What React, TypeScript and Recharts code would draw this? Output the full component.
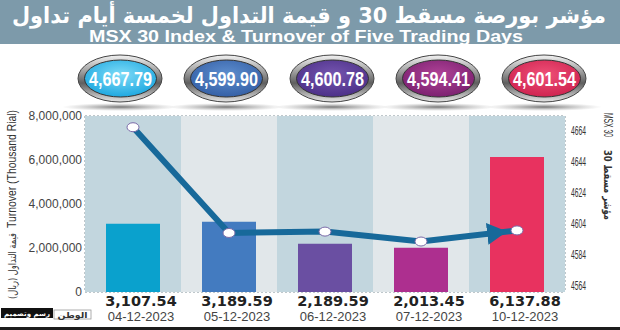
import React from 'react';
import { ComposedChart, Bar, Line, XAxis, YAxis, CartesianGrid, ReferenceArea, Cell } from 'recharts';

const dates = ['04-12-2023', '05-12-2023', '06-12-2023', '07-12-2023', '10-12-2023'];
const turnover = [3107540, 3189590, 2189590, 2013450, 6137880];
const turnoverLabels = ['3,107.54', '3,189.59', '2,189.59', '2,013.45', '6,137.88'];
const msxIndex = [4667.79, 4599.9, 4600.78, 4594.41, 4601.54];
const indexLabels = ['4,667.79', '4,599.90', '4,600.78', '4,594.41', '4,601.54'];
const leftTicks = [0, 2000000, 4000000, 6000000, 8000000];
const rightTicks = [4564, 4584, 4604, 4624, 4644, 4664];

const titleAr = 'مؤشر بورصة مسقط 30 و قيمة التداول لخمسة أيام تداول';
const titleEn = 'MSX 30 Index & Turnover of Five Trading Days';
const leftTitleEn = 'Turnover (Thousand Rial)';
const leftTitleAr = 'قيمة التداول (ريال)';
const rightTitleEn = 'MSX 30';
const rightTitleAr = 'مؤشر مسقط 30';
const creditAr = 'رسم وتصميم';
const logoAr = 'الوطن';

const barColors = ['#0aa1cd', '#437bc0', '#6a4fa2', '#ad2f8f', '#e8325f'];
const ellipseColors = [
  ['#7fdcf8', '#1fa8e0'],
  ['#5f8fcf', '#3560a6'],
  ['#7656b0', '#4c3088'],
  ['#b04398', '#7c2170'],
  ['#ef5078', '#cf2450'],
];
const bandColors = ['#c2d6de', '#e1e7ea'];

const data = dates.map((d, i) => ({ date: d, turnover: turnover[i], index: msxIndex[i] }));

const fmt = (v: number) => v.toLocaleString('en-US');

const XTick = (props: any) => {
  const { x, y, payload } = props;
  const i = dates.indexOf(payload.value);
  return (
    <g transform={`translate(${x + 8},${y})`}>
      <text x={0} y={6} textAnchor="middle" fontFamily="'DejaVu Sans', sans-serif" fontWeight="bold" fontSize={14.5} fill="#222">
        {turnoverLabels[i]}
      </text>
      <text x={0} y={21} textAnchor="middle" fontFamily="'Liberation Sans', Arial, sans-serif" fontSize={13} fill="#444">
        {payload.value}
      </text>
    </g>
  );
};

const LeftTick = (props: any) => {
  const { x, y, payload } = props;
  return (
    <text x={x + 5} y={y} dy="0.35em" textAnchor="end" fontFamily="'Liberation Sans', Arial, sans-serif" fontSize={12} fill="#444">
      {fmt(payload.value)}
    </text>
  );
};

const RightTick = (props: any) => {
  const { x, y, payload } = props;
  return (
    <text x={x - 2} y={y - 3} dy="0.35em" textAnchor="start" fontFamily="'Liberation Sans Narrow', 'Liberation Sans', Arial, sans-serif" fontSize={13} fill="#333" textLength={15} lengthAdjust="spacingAndGlyphs">
      {payload.value}
    </text>
  );
};

const Dot = (props: any) => {
  const { cx, cy } = props;
  if (cx == null || cy == null) return null;
  return <ellipse cx={cx} cy={cy} rx={6} ry={4.5} fill="#fff" stroke="#7a6aa8" strokeWidth={1} />;
};

const Header = () => (
  <svg width={620} height={330} style={{ position: 'absolute', left: 0, top: 0 }}>
    <defs>
      <marker id="arrowHead" viewBox="0 0 20 22" refX={30} refY={11} markerWidth={20} markerHeight={22} markerUnits="userSpaceOnUse" orient="auto">
        <path d="M0,0 L20,11 L0,22 z" fill="#17699a" />
      </marker>
      <linearGradient id="chrome" x1="0" y1="0" x2="0" y2="1">
        <stop offset="0" stopColor="#f2f2f2" />
        <stop offset="0.35" stopColor="#a0a0a0" />
        <stop offset="0.6" stopColor="#5f5f5f" />
        <stop offset="1" stopColor="#e6e6e6" />
      </linearGradient>
      <radialGradient id="shadow" cx="0.5" cy="0.5" r="0.5">
        <stop offset="0" stopColor="#555" stopOpacity={0.8} />
        <stop offset="1" stopColor="#999" stopOpacity={0} />
      </radialGradient>
      {ellipseColors.map((c, i) => (
        <radialGradient key={i} id={`eg${i}`} cx="0.5" cy="0.4" r="0.6">
          <stop offset="0" stopColor={c[0]} />
          <stop offset="1" stopColor={c[1]} />
        </radialGradient>
      ))}
    </defs>
    <rect x={0} y={0} width={620} height={44} fill="#7d9aaa" />
    <text x={309} y={23} textAnchor="middle" fontFamily="'DejaVu Sans', sans-serif" fontWeight="bold" fontSize={22} fill="#fff" textLength={594} lengthAdjust="spacingAndGlyphs" direction="rtl">
      {titleAr}
    </text>
    <text x={306} y={42} textAnchor="middle" fontFamily="'Liberation Sans', Arial, sans-serif" fontWeight="bold" fontSize={17} fill="#fff" textLength={434} lengthAdjust="spacingAndGlyphs">
      {titleEn}
    </text>
    {indexLabels.map((lab, i) => {
      const cx = 120 + i * 106;
      return (
        <g key={i}>
          <ellipse cx={cx} cy={107} rx={58} ry={4} fill="url(#shadow)" />
          <ellipse cx={cx} cy={78.5} rx={42} ry={23.5} fill="url(#chrome)" stroke="#444" strokeWidth={1} />
          <ellipse cx={cx + 0.5} cy={78.5} rx={36} ry={18.5} fill={`url(#eg${i})`} stroke="#333" strokeWidth={1} />
          <text x={cx + 0.5} y={86} textAnchor="middle" fontFamily="'Liberation Sans Narrow', 'Liberation Sans', Arial, sans-serif" fontWeight="bold" fontSize={20} fill="#fff" textLength={63} lengthAdjust="spacingAndGlyphs">
            {lab}
          </text>
        </g>
      );
    })}
    <text transform="translate(16,169) rotate(-90)" textAnchor="middle" fontFamily="'Liberation Sans Narrow', 'Liberation Sans', Arial, sans-serif" fontSize={12} fill="#333" textLength={118} lengthAdjust="spacingAndGlyphs">
      {leftTitleEn}
    </text>
    <text transform="translate(16,266) rotate(-90)" textAnchor="middle" fontFamily="'DejaVu Sans', sans-serif" fontSize={11} fill="#333" textLength={66} lengthAdjust="spacingAndGlyphs" direction="rtl">
      {leftTitleAr}
    </text>
    <text transform="translate(604,125) rotate(90)" textAnchor="middle" fontFamily="'Liberation Sans Narrow', 'Liberation Sans', Arial, sans-serif" fontSize={12} fill="#333" textLength={24} lengthAdjust="spacingAndGlyphs">
      {rightTitleEn}
    </text>
    <text transform="translate(604,185) rotate(90)" textAnchor="middle" fontFamily="'DejaVu Sans', sans-serif" fontWeight="bold" fontSize={11} fill="#333" textLength={70} lengthAdjust="spacingAndGlyphs" direction="rtl">
      {rightTitleAr}
    </text>
    <rect x={1} y={308} width={52} height={10} fill="#111" />
    <text x={27} y={316} textAnchor="middle" fontFamily="'DejaVu Sans', sans-serif" fontWeight="bold" fontSize={7} fill="#fff" textLength={46} lengthAdjust="spacingAndGlyphs" direction="rtl">{creditAr}</text>
    <rect x={54} y={310} width={37} height={9} fill="#fff" stroke="#999" strokeWidth={0.8} />
    <text x={72.5} y={317.5} textAnchor="middle" fontFamily="'DejaVu Sans', sans-serif" fontWeight="bold" fontSize={8} fill="#333" textLength={30} lengthAdjust="spacingAndGlyphs" direction="rtl">{logoAr}</text>
    <rect x={0} y={327} width={620} height={3} fill="#1c1c1c" />
  </svg>
);

export default function App() {
  return (
    <div style={{ position: 'absolute', left: 0, top: 0, width: 620, height: 330, background: '#fff', overflow: 'hidden' }}>
      <Header />
      <div style={{ position: 'absolute', left: 0, top: 0 }}>
        <ComposedChart width={620} height={330} data={data} margin={{ top: 116, right: 0, left: 0, bottom: 0 }}>
          {dates.map((d, i) => (
            <ReferenceArea key={d} x1={d} x2={d} yAxisId="left" y1={0} y2={8000000} fill={bandColors[i % 2]} fillOpacity={1} stroke="none" ifOverflow="visible" />
          ))}
          <CartesianGrid yAxisId="left" stroke="#7f8f97" strokeDasharray="2 2" strokeWidth={1} />
          <XAxis dataKey="date" height={38} axisLine={false} tickLine={false} tick={<XTick />} interval={0} />
          <YAxis yAxisId="left" width={85} domain={[0, 8000000]} ticks={leftTicks} axisLine={false} tickLine={false} tick={<LeftTick />} interval={0} />
          <YAxis yAxisId="right" orientation="right" width={55} domain={[4562, 4675]} ticks={rightTicks} allowDataOverflow axisLine={false} tickLine={false} tick={<RightTick />} interval={0} />
          <Bar yAxisId="left" dataKey="turnover" barSize={54} isAnimationActive={false}>
            {data.map((d, i) => (
              <Cell key={i} fill={barColors[i]} />
            ))}
          </Bar>
          <Line yAxisId="right" dataKey="index" type="linear" stroke="#17699a" strokeWidth={6} dot={<Dot />} activeDot={false} isAnimationActive={false} markerEnd="url(#arrowHead)" />
        </ComposedChart>
      </div>
    </div>
  );
}
